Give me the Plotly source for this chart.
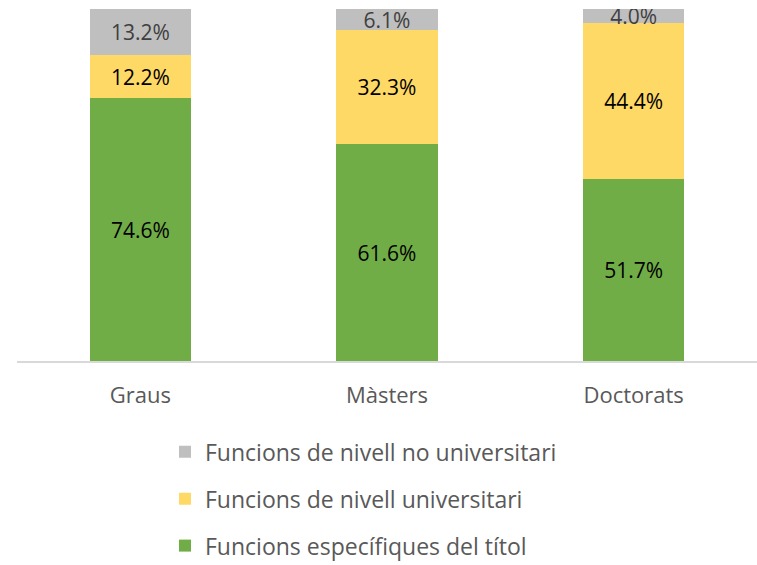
import plotly.graph_objects as go

categories = ["Graus", "Màsters", "Doctorats"]
especifiques = [74.6, 61.6, 51.7]
universitari = [12.2, 32.3, 44.4]
no_universitari = [13.2, 6.1, 4.0]

FONT = "Open Sans"

series = [
    ("Funcions específiques del títol", especifiques, "#70ad47", "#000000", 3),
    ("Funcions de nivell universitari", universitari, "#ffd966", "#000000", 2),
    ("Funcions de nivell no universitari", no_universitari, "#bfbfbf", "#404040", 1),
]

fig = go.Figure()
for name, vals, color, tcolor, rank in series:
    fig.add_trace(go.Bar(
        x=categories, y=vals, name=name,
        marker=dict(color=color, line_width=0),
        texttemplate="%{y:.1f}%", textposition="inside",
        insidetextanchor="middle", constraintext="none", textangle=0,
        textfont=dict(family=FONT, size=21, color=tcolor),
        legendgroup=name, legendrank=rank,
        hoverinfo="skip",
    ))

fig.update_layout(
    barmode="stack", bargap=0.59,
    width=757, height=565,
    margin=dict(l=17, r=0, t=9, b=204, autoexpand=False),
    plot_bgcolor="white", paper_bgcolor="white",
    font=dict(family=FONT, size=22, color="#595959"),
    showlegend=True,
    legend=dict(orientation="v", x=0.2, y=-0.197, xanchor="left", yanchor="top",
                traceorder="grouped", tracegroupgap=14,
                font=dict(family=FONT, size=23, color="#595959")),
)
fig.update_xaxes(showline=True, linecolor="#d9d9d9", linewidth=1.5,
                 ticks="", ticklabelstandoff=14, showgrid=False)
fig.update_yaxes(range=[0, 100], visible=False, showgrid=False)

# drop the default 8px page margin so the figure sits at the window corner
fig.write_html("out.html", config={"displayModeBar": False},
               post_script="document.body.style.margin='0';")
